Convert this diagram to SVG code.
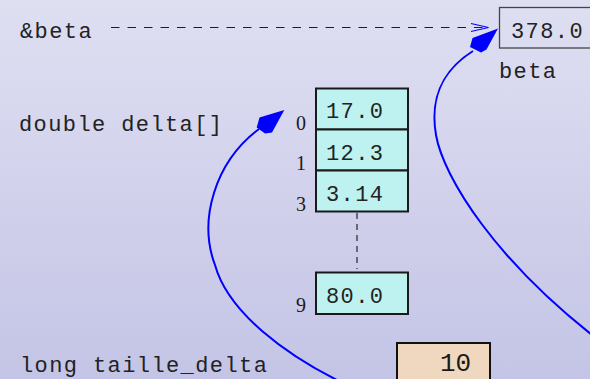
<svg xmlns="http://www.w3.org/2000/svg" width="590" height="379" viewBox="0 0 590 379">
  <defs>
    <linearGradient id="bg" x1="0" y1="0" x2="0" y2="1">
      <stop offset="0" stop-color="#dfdff2"/>
      <stop offset="1" stop-color="#c4c4e6"/>
    </linearGradient>
    <style>
      .code { font-family: "Liberation Mono", "DejaVu Sans Mono", monospace; font-size: 22px; letter-spacing: 1.4px; fill: #222; }
      .idx { font-family: "Liberation Serif", "DejaVu Serif", serif; font-size: 20px; fill: #1a1a1a; }
      .cell { fill: #bdf2f0; stroke: #1a1a1a; stroke-width: 2; }
      .ptr { fill: none; stroke: #0000ff; stroke-width: 2; }
      .head { fill: #0000ff; stroke: none; }
    </style>
  </defs>

  <rect x="0" y="0" width="590" height="379" fill="url(#bg)"/>

  <!-- variable names -->
  <g id="label-ref-beta">
    <text class="code" x="20" y="38">&amp;beta</text>
  </g>
  <g id="label-delta">
    <text class="code" x="19" y="131">double delta[]</text>
  </g>
  <g id="label-taille">
    <text class="code" x="20" y="372">long taille_delta</text>
  </g>

  <!-- scalar beta -->
  <g id="beta">
    <rect x="499.5" y="7.5" width="100" height="40.5" fill="none" stroke="#444" stroke-width="1.3"/>
    <text class="code" x="511" y="38">378.0</text>
    <text class="code" x="499" y="78">beta</text>
  </g>

  <!-- array delta -->
  <g id="delta">
    <rect class="cell" x="316" y="88.5" width="92" height="41"/>
    <rect class="cell" x="316" y="129.5" width="92" height="41"/>
    <rect class="cell" x="316" y="170.5" width="92" height="41"/>
    <rect class="cell" x="316" y="272.5" width="92" height="41.5"/>
    <text class="code" x="326" y="118">17.0</text>
    <text class="code" x="326" y="160">12.3</text>
    <text class="code" x="326" y="201">3.14</text>
    <text class="code" x="326" y="303">80.0</text>
    <text class="idx" x="296" y="130">0</text>
    <text class="idx" x="296" y="170">1</text>
    <text class="idx" x="296" y="211">3</text>
    <text class="idx" x="296" y="312">9</text>
    <line x1="357" y1="213" x2="357" y2="269" stroke="#333" stroke-width="1.3" stroke-dasharray="6 5"/>
  </g>

  <!-- size variable -->
  <g id="taille">
    <rect x="397" y="343" width="93" height="60" fill="#f0d8c0" stroke="#111" stroke-width="2"/>
    <text x="440" y="371" font-family="Liberation Mono, DejaVu Sans Mono, monospace" font-size="26" fill="#1a1a1a">10</text>
  </g>

  <!-- connectors -->
  <g id="connectors">
    <line x1="111" y1="27.5" x2="487" y2="27.5" stroke="#0000ff" stroke-width="1.2" stroke-dasharray="8.5 8"/>
    <polyline points="471,23.5 488.5,27.5 471,31.5" fill="none" stroke="#0000ff" stroke-width="1.2"/>

    <path class="ptr" d="M 345,384 C 285,355 228,312 215,265 C 198,220 215,162 259,129"/>
    <polygon class="head" points="284.3,110 259.5,117.5 256.7,127.5 265,133.5 272,132.5"/>

    <path class="ptr" d="M 605,345 C 495,262 443,176 436,135 C 430,100 440,72 473,51"/>
    <polygon class="head" points="498,28.5 472.5,38 470,47 481,52.5 486.5,49.5"/>
  </g>
</svg>
